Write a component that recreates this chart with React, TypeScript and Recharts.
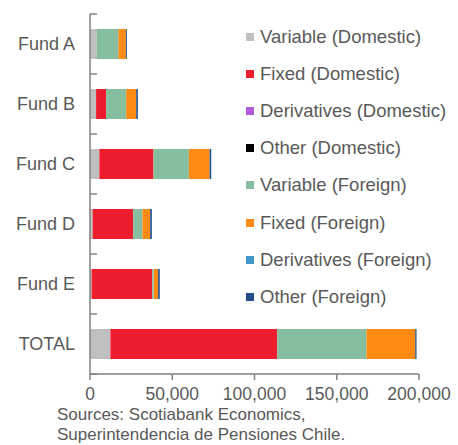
import { BarChart, Bar, XAxis, YAxis } from "recharts"

const funds = ["Fund A", "Fund B", "Fund C", "Fund D", "Fund E", "TOTAL"]

const variableDomestic = [4100, 3700, 5700, 1600, 1000, 12400]
const fixedDomestic = [0, 6100, 32900, 24600, 36800, 101400]
const derivativesDomestic = [0, 0, 0, 0, 0, 0]
const otherDomestic = [0, 0, 0, 0, 0, 0]
const variableForeign = [13200, 12200, 21500, 5700, 1000, 54300]
const fixedForeign = [4500, 6100, 12600, 4700, 2600, 29600]
const derivativesForeign = [0, 0, 0, 0, 0, 0]
const otherForeign = [600, 1000, 1000, 1000, 1000, 800]

const xTicks = [0, 50000, 100000, 150000, 200000]

const series = [
  { key: "vd", name: "Variable (Domestic)", values: variableDomestic, color: "#bfbfbf" },
  { key: "fd", name: "Fixed (Domestic)", values: fixedDomestic, color: "#ed1c2e" },
  { key: "dd", name: "Derivatives (Domestic)", values: derivativesDomestic, color: "#b05cdc" },
  { key: "od", name: "Other (Domestic)", values: otherDomestic, color: "#000000" },
  { key: "vf", name: "Variable (Foreign)", values: variableForeign, color: "#86bf9f" },
  { key: "ff", name: "Fixed (Foreign)", values: fixedForeign, color: "#ff8a14" },
  { key: "df", name: "Derivatives (Foreign)", values: derivativesForeign, color: "#3d97c9" },
  { key: "of", name: "Other (Foreign)", values: otherForeign, color: "#1f4e89" },
]

const data = funds.map((fund, i) => {
  const row: Record<string, string | number> = { fund }
  series.forEach((s) => {
    row[s.key] = s.values[i]
  })
  return row
})

const TEXT = "#595959"
const AXIS = "#808080"
const FONT = "'Liberation Sans', Arial, sans-serif"
const PLOT_TOP = 14
const PLOT_H = 360
const BAND = PLOT_H / funds.length

const YTick = ({ x, y, payload, index }: any) => {
  const axisX = x + 15
  return (
    <g>
      <line x1={axisX} x2={axisX + 7} y1={y - BAND / 2} y2={y - BAND / 2} stroke={AXIS} strokeWidth={1.5} />
      {index === funds.length - 1 && (
        <line x1={axisX} x2={axisX + 7} y1={y + BAND / 2} y2={y + BAND / 2} stroke={AXIS} strokeWidth={1.5} />
      )}
      <text x={x} y={y} dy="0.35em" textAnchor="end" fill={TEXT} fontSize={18} fontFamily={FONT}>
        {payload.value}
      </text>
    </g>
  )
}

export default function App() {
  return (
    <div style={{ position: "absolute", left: 0, top: 0, width: 458, height: 445, background: "#fff", fontFamily: FONT }}>
      <BarChart
        width={458}
        height={445}
        data={data}
        layout="vertical"
        margin={{ top: PLOT_TOP, right: 39, left: 0, bottom: 445 - PLOT_TOP - PLOT_H - 30 }}
        barCategoryGap={15}
      >
        <XAxis
          type="number"
          domain={[0, 200000]}
          ticks={xTicks}
          tickFormatter={(v: number) => v.toLocaleString("en-US")}
          height={30}
          stroke={AXIS}
          strokeWidth={1.5}
          tickSize={6}
          tickMargin={8}
          tick={{ fill: TEXT, fontSize: 17.5, fontFamily: FONT }}
          interval={0}
        />
        <YAxis
          type="category"
          dataKey="fund"
          width={90}
          stroke={AXIS}
          strokeWidth={1.5}
          tickLine={false}
          tickSize={0}
          tickMargin={15}
          tick={<YTick />}
          interval={0}
        />
        {series.map((s) => (
          <Bar key={s.key} dataKey={s.key} name={s.name} stackId="a" fill={s.color} barSize={30} isAnimationActive={false} />
        ))}
      </BarChart>
      <div style={{ position: "absolute", left: 246, top: 18 }}>
        {series.map((s) => (
          <div key={s.key} style={{ display: "flex", alignItems: "center", height: 37.2 }}>
            <span style={{ width: 8, height: 8, background: s.color, marginRight: 6 }} />
            <span style={{ color: TEXT, fontSize: 18.5, whiteSpace: "nowrap" }}>{s.name}</span>
          </div>
        ))}
      </div>
      <div style={{ position: "absolute", left: 57, top: 405, color: TEXT, fontSize: 17, lineHeight: "20px" }}>
        Sources: Scotiabank Economics,
        <br />
        Superintendencia de Pensiones Chile.
      </div>
    </div>
  )
}
